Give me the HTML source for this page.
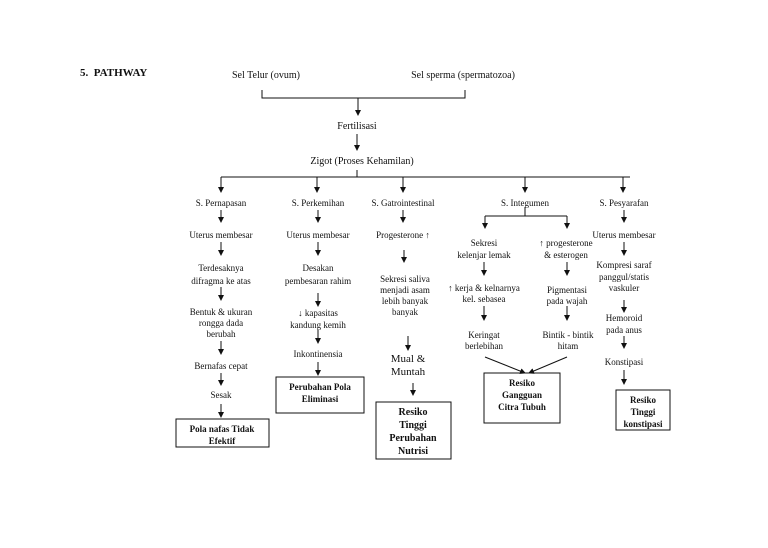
<!DOCTYPE html>
<html><head><meta charset="utf-8"><style>
html,body{margin:0;padding:0;background:#fff;}
svg text{font-family:"Liberation Serif",serif;font-size:9px;fill:#111;text-anchor:middle;}
.b{font-weight:bold;}
</style></head><body>
<svg width="768" height="543" viewBox="0 0 768 543" xmlns="http://www.w3.org/2000/svg">
<defs><marker id="a" markerWidth="6" markerHeight="6" refX="5" refY="3" orient="auto" markerUnits="userSpaceOnUse"><path d="M0,0 L6,3 L0,6 z" fill="#111"/></marker></defs>
<g stroke="#111" stroke-width="1" fill="none">
<path d="M262,90V98H465V90"/>
<line x1="358" y1="98" x2="358" y2="115" marker-end="url(#a)"/>
<line x1="357" y1="134" x2="357" y2="150" marker-end="url(#a)"/>
<path d="M357,170V177M221,177H630"/>
<line x1="221" y1="177" x2="221" y2="192" marker-end="url(#a)"/>
<line x1="317" y1="177" x2="317" y2="192" marker-end="url(#a)"/>
<line x1="403" y1="177" x2="403" y2="192" marker-end="url(#a)"/>
<line x1="525" y1="177" x2="525" y2="192" marker-end="url(#a)"/>
<line x1="623" y1="177" x2="623" y2="192" marker-end="url(#a)"/>
<!-- col1 -->
<line x1="221" y1="210" x2="221" y2="222" marker-end="url(#a)"/>
<line x1="221" y1="242" x2="221" y2="255" marker-end="url(#a)"/>
<line x1="221" y1="287" x2="221" y2="300" marker-end="url(#a)"/>
<line x1="221" y1="341" x2="221" y2="354" marker-end="url(#a)"/>
<line x1="221" y1="373" x2="221" y2="385" marker-end="url(#a)"/>
<line x1="221" y1="404" x2="221" y2="417" marker-end="url(#a)"/>
<rect x="176" y="419" width="93" height="28"/>
<!-- col2 -->
<line x1="318" y1="210" x2="318" y2="222" marker-end="url(#a)"/>
<line x1="318" y1="242" x2="318" y2="255" marker-end="url(#a)"/>
<line x1="318" y1="293" x2="318" y2="306" marker-end="url(#a)"/>
<line x1="318" y1="330" x2="318" y2="343" marker-end="url(#a)"/>
<line x1="318" y1="362" x2="318" y2="375" marker-end="url(#a)"/>
<rect x="276" y="377" width="88" height="36"/>
<!-- col3 -->
<line x1="403" y1="210" x2="403" y2="222" marker-end="url(#a)"/>
<line x1="404" y1="250" x2="404" y2="262" marker-end="url(#a)"/>
<line x1="408" y1="336" x2="408" y2="350" marker-end="url(#a)"/>
<line x1="413" y1="383" x2="413" y2="395" marker-end="url(#a)"/>
<rect x="376" y="402" width="75" height="57"/>
<!-- col4 -->
<path d="M525,207V216M485,216H567"/>
<line x1="485" y1="216" x2="485" y2="228" marker-end="url(#a)"/>
<line x1="567" y1="216" x2="567" y2="228" marker-end="url(#a)"/>
<line x1="484" y1="262" x2="484" y2="275" marker-end="url(#a)"/>
<line x1="567" y1="262" x2="567" y2="275" marker-end="url(#a)"/>
<line x1="484" y1="306" x2="484" y2="320" marker-end="url(#a)"/>
<line x1="567" y1="306" x2="567" y2="320" marker-end="url(#a)"/>
<line x1="485" y1="357" x2="525" y2="373" marker-end="url(#a)"/>
<line x1="567" y1="357" x2="529" y2="373" marker-end="url(#a)"/>
<rect x="484" y="373" width="76" height="50"/>
<!-- col5 -->
<line x1="624" y1="210" x2="624" y2="222" marker-end="url(#a)"/>
<line x1="624" y1="242" x2="624" y2="255" marker-end="url(#a)"/>
<line x1="624" y1="300" x2="624" y2="312" marker-end="url(#a)"/>
<line x1="624" y1="336" x2="624" y2="348" marker-end="url(#a)"/>
<line x1="624" y1="370" x2="624" y2="384" marker-end="url(#a)"/>
<rect x="616" y="390" width="54" height="40"/>
</g>
<text x="80" y="76" class="b" style="text-anchor:start;font-size:11px">5.&#160;&#160;PATHWAY</text>
<text x="266" y="78" style="font-size:10px">Sel Telur (ovum)</text>
<text x="463" y="78" style="font-size:10px">Sel sperma (spermatozoa)</text>
<text x="357" y="129" style="font-size:10px">Fertilisasi</text>
<text x="362" y="164" style="font-size:10px">Zigot (Proses Kehamilan)</text>
<text x="221" y="206">S. Pernapasan</text>
<text x="318" y="206">S. Perkemihan</text>
<text x="403" y="206">S. Gatrointestinal</text>
<text x="525" y="206">S. Integumen</text>
<text x="624" y="206">S. Pesyarafan</text>
<!-- col1 -->
<text x="221" y="238">Uterus membesar</text>
<text x="221" y="271">Terdesaknya</text>
<text x="221" y="284">difragma ke atas</text>
<text x="221" y="315">Bentuk &amp; ukuran</text>
<text x="221" y="326">rongga dada</text>
<text x="221" y="337">berubah</text>
<text x="221" y="369">Bernafas cepat</text>
<text x="221" y="398">Sesak</text>
<text x="222" y="432" class="b">Pola nafas  Tidak</text>
<text x="222" y="444" class="b">Efektif</text>
<!-- col2 -->
<text x="318" y="238">Uterus membesar</text>
<text x="318" y="271">Desakan</text>
<text x="318" y="284">pembesaran rahim</text>
<text x="318" y="316">↓ kapasitas</text>
<text x="318" y="328">kandung kemih</text>
<text x="318" y="357">Inkontinensia</text>
<text x="320" y="390" class="b">Perubahan Pola</text>
<text x="320" y="402" class="b">Eliminasi</text>
<!-- col3 -->
<text x="403" y="238">Progesterone ↑</text>
<text x="405" y="282">Sekresi saliva</text>
<text x="405" y="293">menjadi asam</text>
<text x="405" y="304">lebih banyak</text>
<text x="405" y="315">banyak</text>
<text x="408" y="362" style="font-size:11px">Mual &amp;</text>
<text x="408" y="375" style="font-size:11px">Muntah</text>
<text x="413" y="415" class="b" style="font-size:10px">Resiko</text>
<text x="413" y="428" class="b" style="font-size:10px">Tinggi</text>
<text x="413" y="441" class="b" style="font-size:10px">Perubahan</text>
<text x="413" y="454" class="b" style="font-size:10px">Nutrisi</text>
<!-- col4 -->
<text x="484" y="246">Sekresi</text>
<text x="484" y="258">kelenjar lemak</text>
<text x="566" y="246">↑ progesterone</text>
<text x="566" y="258">&amp; esterogen</text>
<text x="484" y="291">↑ kerja &amp; kelnarnya</text>
<text x="484" y="302">kel. sebasea</text>
<text x="567" y="293">Pigmentasi</text>
<text x="567" y="304">pada wajah</text>
<text x="484" y="338">Keringat</text>
<text x="484" y="349">berlebihan</text>
<text x="568" y="338">Bintik - bintik</text>
<text x="568" y="349">hitam</text>
<text x="522" y="386" class="b">Resiko</text>
<text x="522" y="398" class="b">Gangguan</text>
<text x="522" y="410" class="b">Citra Tubuh</text>
<!-- col5 -->
<text x="624" y="238">Uterus membesar</text>
<text x="624" y="268">Kompresi saraf</text>
<text x="624" y="280">panggul/statis</text>
<text x="624" y="291">vaskuler</text>
<text x="624" y="321">Hemoroid</text>
<text x="624" y="333">pada anus</text>
<text x="624" y="365">Konstipasi</text>
<text x="643" y="403" class="b">Resiko</text>
<text x="643" y="415" class="b">Tinggi</text>
<text x="643" y="427" class="b">konstipasi</text>
</svg>
</body></html>
